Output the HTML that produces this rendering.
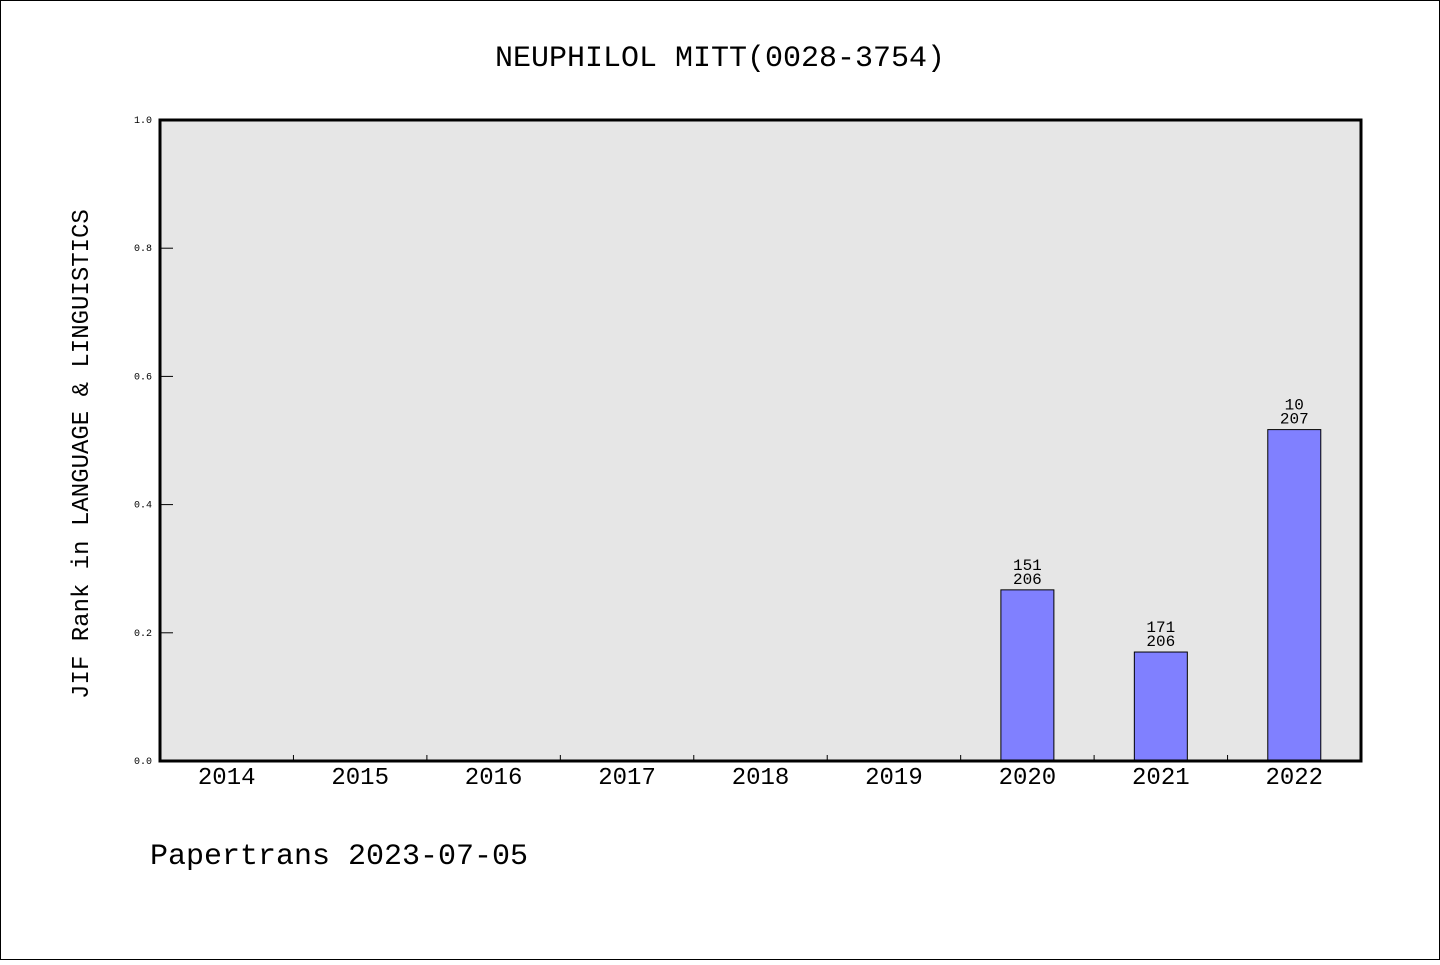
<!DOCTYPE html>
<html><head><meta charset="utf-8"><style>
html,body{margin:0;padding:0;background:#fff;}
svg text{font-family:"Liberation Mono","DejaVu Sans Mono",monospace;fill:#000;}
</style></head><body>
<svg width="1440" height="960" viewBox="0 0 1440 960" xmlns="http://www.w3.org/2000/svg">
<rect x="0.5" y="0.5" width="1439" height="959" fill="#fff" stroke="#000" stroke-width="1"/>
<text x="720" y="66" font-size="30" text-anchor="middle">NEUPHILOL MITT(0028-3754)</text>
<rect x="160" y="120" width="1201" height="641" fill="#e6e6e6"/>
<g id="bars"></g>
<g id="ticks"></g>
<rect x="160" y="120" width="1201" height="641" fill="none" stroke="#000" stroke-width="3"/>
<text transform="translate(88,454) rotate(-90)" font-size="24" text-anchor="middle">JIF Rank in LANGUAGE &amp; LINGUISTICS</text>
<text x="150" y="864" font-size="30">Papertrans 2023-07-05</text>
</svg>
<script>
const years = ['2014','2015','2016','2017','2018','2019','2020','2021','2022'];
const values = [null,null,null,null,null,null,0.267,0.170,0.517];
const ranks = [null,null,null,null,null,null,'151','171','10'];
const totals = [null,null,null,null,null,null,'206','206','207'];
const yTicks = [0,0.2,0.4,0.6,0.8,1.0];
const yTickLabels = ['0.0','0.2','0.4','0.6','0.8','1.0'];

const X0=160,X1=1361,Y0=761,Y1=120;
const band=(X1-X0)/years.length;
const xC=i=>X0+band*(i+0.5);
const yS=v=>Y0-(v)*(Y0-Y1);
const NS='http://www.w3.org/2000/svg';
const bars=document.getElementById('bars'), ticks=document.getElementById('ticks');
function mk(tag,attrs,parent){const e=document.createElementNS(NS,tag);for(const k in attrs)e.setAttribute(k,attrs[k]);parent.appendChild(e);return e;}
years.forEach((y,i)=>{
  const t=mk('text',{x:xC(i),y:784,'font-size':24,'text-anchor':'middle'},ticks);
  t.textContent=y;
  
  
  if(i>0){
    const l=mk('line',{x1:X0+band*i,x2:X0+band*i,y1:Y0,y2:Y0-6,stroke:'#000','stroke-width':1},ticks);
    
    
  }
  const v=values[i];
  if(v!=null){
    const w=53;
    const r=mk('rect',{x:xC(i)-w/2,y:yS(v),width:w,height:Y0-yS(v),fill:'#8080ff',stroke:'#000','stroke-width':1},bars);
    
    
    const a=mk('text',{x:xC(i),y:yS(v)-20,'font-size':16,'text-anchor':'middle'},bars);
    a.textContent=ranks[i];
    
    
    const b=mk('text',{x:xC(i),y:yS(v)-6,'font-size':16,'text-anchor':'middle'},bars);
    b.textContent=totals[i];
    
    
  }
});
yTicks.forEach((v,i)=>{
  const t=mk('text',{x:152,y:yS(v)+3,'font-size':10,'text-anchor':'end'},ticks);
  t.textContent=yTickLabels[i];
  
  
  const l=mk('line',{x1:X0,x2:X0+13,y1:yS(v),y2:yS(v),stroke:'#000','stroke-width':1},ticks);
  
  
});
</script>
</body></html>
